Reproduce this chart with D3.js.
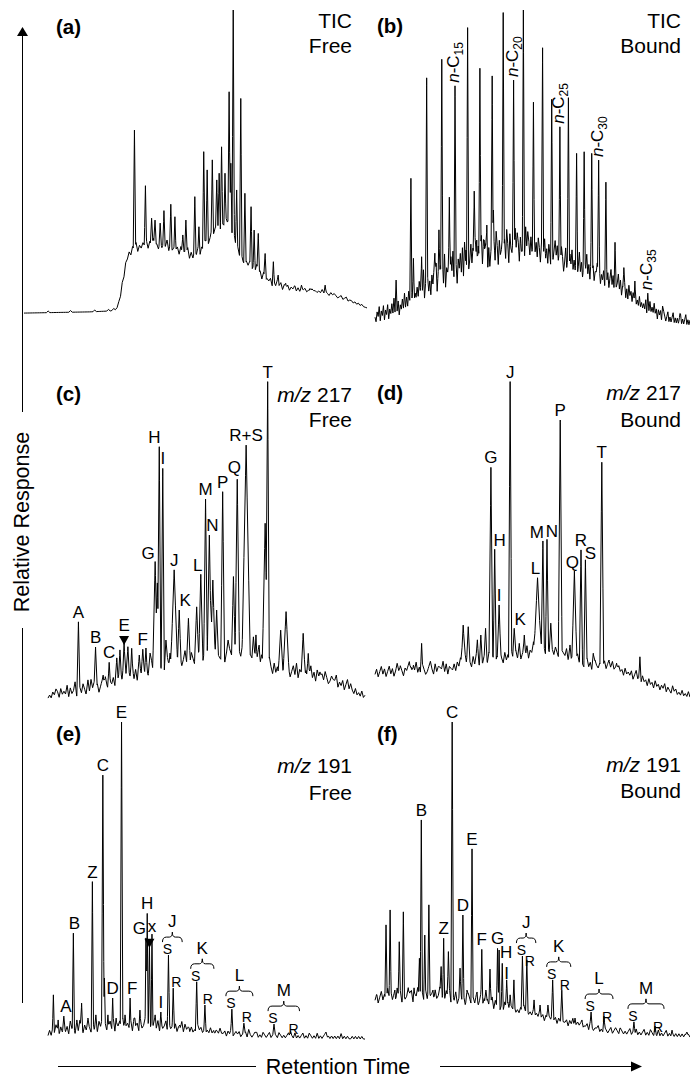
<!DOCTYPE html>
<html>
<head>
<meta charset="utf-8">
<title>Free and bound biomarker chromatograms</title>
<script src="https://cdn.jsdelivr.net/npm/d3@7"></script>
<style>
  body { margin: 0; background: #fff; }
  text { font-family: "Liberation Sans", Arial, Helvetica, sans-serif; fill: #000; }
</style>
</head>
<body>
<svg id="chart" width="690" height="1078"></svg>
<script>
// u = relative retention time across a panel (0-100), v = relative response (0-100)

// (a) TIC, free
const humpA = [[0,0.3],[19.2,0.7],[25.1,1.0],[27.4,1.6],[28.9,10.2],[30.0,16.8],[31.5,18.8],[33.8,20.5],[36.7,21.2],[41.7,20.5],[45.5,19.0],[49.3,17.3],[51.3,18.6],[53.4,21.9],[55.1,25.1],[57.1,27.1],[59.2,28.8],[60.9,25.1],[62.4,18.6],[63.8,15.3],[66.8,13.5],[70.8,9.5],[74.6,7.6],[80.5,6.9],[88.3,6.3],[93.6,4.6],[100,2.0]];
const peaksA = [[32.2,60.5],[35.4,42.2],[37.2,31.5],[38.2,30.9],[39.7,29.9],[40.8,34.0],[42.8,36.1],[44.0,32.0],[46.3,26.0],[47.2,30.9],[49.8,38.6],[51.0,28.7],[52.4,53.4],[53.4,47.4],[54.9,50.7],[56.2,44.1],[56.9,46.3],[57.6,55.0],[58.6,46.3],[59.8,73.1],[60.3,49.6],[61.0,100],[62.0,40.8],[63.2,70.9],[64.4,39.7],[66.2,35.3],[67.1,27.6],[68.3,26.5],[70.3,19.9],[72.7,17.2],[74.1,12.8],[76.3,10.1],[79.0,9.2],[80.9,9.5],[83.4,8.4],[87.8,9.5]];
const noiseA = "0000000000" + "0000100000" + "0000000100" + "0000000000" + "0100000001" +
               "0010120314" + "2526371425" + "3615273416" + "2537162435" + "1624371526" +
               "3715264137" + "2536142637" + "4152637425" + "3614273516" + "2435142635" +
               "1424132413" + "1323121322" + "1213121021" + "2101201201" + "1010101000";

// (b) TIC, bound
const humpB = [[0,2.5],[5.7,3.8],[11.1,6.3],[16.4,8.8],[21.6,11.6],[27.0,13.4],[32.3,15.6],[37.5,17.2],[42.9,18.1],[48.2,18.8],[53.3,18.1],[58.7,17.2],[64.0,15.6],[69.2,14.1],[74.6,11.6],[79.9,8.4],[85.1,5.3],[90.5,3.1],[95.8,2.2],[100,1.6]];
const peaksB = [[6.7,15.6],[11.4,47.4],[12.2,22.4],[14.8,22.9],[16.4,78.8],[19.0,24.0],[20.3,31.3],[21.2,84.6],[23.6,41.5],[25.4,76.3],[27.0,22.9],[28.9,25.0],[29.4,94.5],[31.5,43.4],[32.3,28.1],[33.3,81.8],[34.7,28.1],[35.5,32.8],[37.2,79.4],[37.6,37.5],[40.7,99.2],[44.0,78.1],[45.0,21.9],[46.3,20.8],[47.1,100],[49.2,24.0],[50.3,71.2],[53.2,88.2],[54.1,18.8],[56.1,72.1],[58.7,63.5],[61.4,72.6],[64.0,55.2],[66.4,55.7],[68.8,55.2],[71.0,53.1],[73.3,46.2],[76.2,27.4],[79.0,19.5],[82.5,15.3],[86.6,11.5],[91.3,7.5],[96.8,5.2]];
const noiseB = "1021302130" + "2130213141" + "2130213141" +
               "3142524132" + "4253627143" + "5241536271" +
               "5364728154" + "6374829516" + "4738295163" +
               "5847396274" + "6938475162" + "5847396274" +
               "5847396285" + "4739586274" + "4839586274" +
               "5846375263" + "4735264153" + "5746352641" +
               "3624153624" + "2513624135" + "3624152413" +
               "3524132413" + "2413524132" + "3524132413" +
               "1423132412" + "1312121302" + "1312131202" +
               "1201210120" + "1012010101" + "2010120101";
const alkanesB = [["15",25.4],["20",44.0],["25",58.7],["30",71.0],["35",86.6]];

// (c) m/z 217, free
const humpC = [[0,0.6],[10.1,1.3],[19.6,3.1],[25.9,5.3],[32.2,7.8],[38.5,10.0],[44.8,11.3],[54.3,11.3],[60.6,13.8],[65.3,11.9],[71.6,7.8],[79.5,6.9],[89.0,5.0],[100,0.6]];
const peaksC = [[9.6,24.5,0.5,"A"],[12.6,6.3,0.6],[15.0,16.6,0.5,"B"],[17.4,7.8,0.6],[19.3,11.8,0.5,"C"],[21.7,13.2,0.6],[22.7,15.7,0.6],[24.0,17.9,0.6,"E"],[25.2,16.7,0.6],[26.4,16.2,0.5],[28.8,14.1,0.6],[29.9,15.9,0.6,"F"],[30.9,16.3,0.5],[32.2,14.7,0.6],[33.8,43.4,0.8,"G"],[34.5,36.7,0.6],[35.1,79.4,0.5,"H"],[36.2,72.6,0.5,"I"],[37.2,18.8,0.5],[38.5,14.7,0.5],[39.8,40.8,1.1,"J"],[41.4,28.2,0.6,"K"],[44.3,25.6,0.6],[46.9,29.2,0.7],[48.2,39.4,0.7,"L"],[49.7,63.0,0.6,"M"],[50.9,51.7,0.7,"N"],[52.0,37.6,0.8],[53.2,28.2,0.6],[55.1,65.3,0.6,"P"],[56.8,18.8,0.5],[58.5,38.7,0.6],[59.7,69.2,0.7,"Q"],[62.5,79.9,1.3,"R+S"],[64.8,19.8,0.5],[65.6,20.4,0.4],[66.6,17.2,0.4],[68.5,55.4,0.9],[69.3,99.8,0.5,"T"],[73.4,21.9,0.8],[75.1,27.7,1.0],[80.5,20.9,0.7],[82.1,14.6,0.5],[85.8,8.8,0.6],[90.5,6.3,0.6]];
const noiseC = "0102132031" + "2140312502" + "3142031524" + "1302415203" + "2413052314" +
               "0325140231" + "4120351402" + "3150241305" + "2413025130" + "4201352041" +
               "3025140321" + "5031420513" + "2041530214" + "3150420315" + "2041305214" +
               "1302415032" + "4130251304" + "2031420132" + "1402130241" + "3102010201";

// (d) m/z 217, bound
const humpD = [[0,7.2],[7.9,7.5],[17.5,8.1],[23.8,8.1],[27.0,10.0],[33.3,10.6],[42.9,11.9],[52.4,13.8],[60.3,13.1],[68.3,9.4],[76.2,8.8],[81.0,6.9],[87.3,4.1],[93.7,2.2],[100,0.9]];
const peaksD = [[2.9,9.4,0.6],[7.3,10.3,0.6],[10.9,12.0,0.6],[12.2,10.9,0.5],[14.8,17.7,0.4],[17.5,10.0,0.6],[20.6,10.3,0.6],[28.0,23.4,0.7],[29.6,22.9,0.6],[32.5,18.8,0.5],[33.6,20.3,0.5],[35.1,22.4,0.5],[36.8,72.7,0.6,"G"],[38.0,47.1,0.5,"H"],[39.4,29.7,0.6,"I"],[42.9,99.5,0.5,"J"],[44.2,22.4,0.5,"K"],[45.8,17.7,0.5],[47.4,20.3,0.5],[50.3,18.2,0.5],[51.6,38.2,1.2,"L"],[53.3,49.7,0.5,"M"],[54.6,50.2,0.5,"N"],[55.8,24.0,0.5],[58.8,87.5,0.6,"P"],[61.9,17.2,0.5],[63.3,40.3,0.8,"Q"],[65.4,46.9,0.5,"R"],[66.8,43.8,0.5,"S"],[69.3,14.6,0.5],[72.0,74.3,0.6,"T"],[74.3,12.5,0.5],[76.7,11.5,0.6],[84.1,13.5,0.4]];
const noiseD = "1302413024" + "1302514203" + "2413025130" + "4201352041" + "3025140321" +
               "3031420513" + "2041530214" + "3150420315" + "2041305214" + "1302415032" +
               "4130251304" + "2031420132" + "1402130241" + "3102413024" + "2130241302" +
               "4120312031" + "2130241203" + "1203120312" + "0213021031" + "2010201020";

// (e) m/z 191, free
const humpE = [[0,0.6],[16.4,1.9],[32.2,2.2],[47.9,1.6],[63.7,0.9],[79.5,0.6],[100,0.3]];
const peaksE = [[1.7,14.2,0.35],[3.2,6.3,0.4],[5.0,7.5,0.4,"A"],[6.9,5.0,0.4],[8.0,33.6,0.35,"B"],[9.1,6.3,0.4],[10.6,11.6,0.35],[12.6,6.9,0.4],[14.0,49.8,0.35,"Z"],[15.1,7.9,0.4],[17.3,83.3,0.4,"C"],[17.8,19.5,0.3],[18.9,7.9,0.4],[20.4,13.2,0.35,"D"],[21.5,6.9,0.4],[23.2,100,0.4,"E"],[24.3,7.9,0.4],[25.9,13.2,0.35,"F"],[27.4,6.9,0.4],[29.0,9.4,0.4],[30.9,32.1,0.3],[31.3,39.8,0.3,"H"],[32.0,29.6,0.35,"G"],[32.8,33.3,0.3,"x"],[33.8,7.9,0.4],[35.6,8.8,0.35,"I"],[41.6,4.7,0.4],[44.5,3.8,0.4],[53.0,3.1,0.5],[65.3,2.5,0.5],[87.7,2.5,0.5]];
const hopanesE = [["J",38.0,26.7,39.5,16.3],["K",46.9,18.3,49.5,11.0],["L",58.0,9.7,61.8,5.3],["M",71.3,5.0,76.5,2.8]];
const noiseE = "1314253142" + "5241634152" + "6314253162" + "4153624135" + "2614352613" +
               "4251634152" + "3624153625" + "1423514231" + "4132514231" + "3121423121" +
               "2131202131" + "1202130121" + "2011203101" + "1201021012" + "0121021010" +
               "1201020101" + "2010210102" + "0101201010" + "1010201010" + "0101010100";

// (f) m/z 191, bound
const humpF = [[0,10.7],[7.9,11.0],[20.6,11.3],[34.9,9.4],[48.6,7.2],[62.9,4.1],[74.0,2.2],[84.1,1.6],[100,0.9]];
const peaksF = [[0.6,14.2,0.3],[3.5,36.2,0.35],[4.8,40.9,0.35],[6.3,15.7,0.4],[7.7,30.9,0.35],[9.0,40.3,0.35],[11.1,15.2,0.4],[12.4,16.4,0.4],[14.1,25.7,0.35],[14.7,69.2,0.35,"B"],[15.8,33.0,0.35],[17.1,42.5,0.35],[18.4,15.7,0.4],[21.0,23.1,0.35],[21.8,32.0,0.35,"Z"],[23.3,27.8,0.4],[24.5,100,0.4,"C"],[27.0,22.6,0.4],[27.9,39.3,0.35,"D"],[29.2,15.7,0.4],[30.8,60.1,0.35,"E"],[32.4,15.1,0.4],[33.9,28.5,0.35,"F"],[35.2,15.7,0.4],[36.5,22.3,0.4],[38.9,28.8,0.35,"G"],[39.4,28.3,0.3],[40.4,24.1,0.35,"H"],[41.8,18.9,0.35,"I"],[42.9,14.2,0.4],[44.1,18.9,0.35],[50.5,12.6,0.4],[52.4,11.0,0.4],[54.9,11.0,0.4],[63.5,6.9,0.4],[65.7,6.3,0.4],[77.8,3.8,0.4],[94.3,3.1,0.4],[99.0,2.5,0.4]];
const hopanesF = [["J",46.8,26.4,48.2,25.2],["K",56.4,18.9,59.3,15.7],["L",68.6,8.8,72.7,7.5],["M",82.2,5.7,88.9,4.4]];
const noiseF = "2413524163" + "5241635142" + "3625143625" + "4152634152" + "3614253614" +
               "2513624135" + "3142513624" + "1423514231" + "3142413231" + "2131423121" +
               "3121312021" + "2131202131" + "1202130121" + "2011203101" + "1201021012" +
               "0121021010" + "1201020101" + "2010210102" + "0101201010" + "1010101010";

// panel titles
const titles = {
  a: ["(a)", "TIC", "Free"], b: ["(b)", "TIC", "Bound"],
  c: ["(c)", "m/z 217", "Free"], d: ["(d)", "m/z 217", "Bound"],
  e: ["(e)", "m/z 191", "Free"], f: ["(f)", "m/z 191", "Bound"]
};

// ---- layout
const svg = d3.select("#chart");

const panels = [
  { id: "a", hump: humpA, peaks: peaksA, noise: noiseA, amp: 0.55, w: 0.35, x: [24, 367], y: [314, 10] },
  { id: "b", hump: humpB, peaks: peaksB, noise: noiseB, amp: 1.5, w: 0.35, x: [375, 690], y: [330, 10] },
  { id: "c", hump: humpC, peaks: peaksC, noise: noiseC, amp: 0.9, w: 0.6, x: [48, 365], y: [700, 381] },
  { id: "d", hump: humpD, peaks: peaksD, noise: noiseD, amp: 0.8, w: 0.6, x: [375, 690], y: [700, 380] },
  { id: "e", hump: humpE, peaks: peaksE, noise: noiseE, amp: 0.8, w: 0.4, x: [48, 365], y: [1040, 722], hop: hopanesE },
  { id: "f", hump: humpF, peaks: peaksF, noise: noiseF, amp: 0.9, w: 0.4, x: [375, 690], y: [1040, 722], hop: hopanesF }
];

const titlePos = {
  a: { tx: 56, rx: 352, tag: 34, l1: 28, l2: 53 },
  b: { tx: 377, rx: 681, tag: 33, l1: 28, l2: 53 },
  c: { tx: 56, rx: 352, tag: 401, l1: 402, l2: 427 },
  d: { tx: 377, rx: 681, tag: 400, l1: 400, l2: 427 },
  e: { tx: 56, rx: 352, tag: 741, l1: 773, l2: 800 },
  f: { tx: 377, rx: 681, tag: 741, l1: 772, l2: 798 }
};

// small label shifts in px [dx, dy]
const nudge = {
  "cG": [-7, 1], "cH": [-5, 0], "cK": [6, 0], "cL": [-3, 1], "cN": [3, 0], "cQ": [-3, -2],
  "dH": [5, 1], "dK": [6, 1], "dL": [-2, 0], "dM": [-6, 1], "dN": [5, 2], "dQ": [-2, 1], "dS": [5, 3],
  "eA": [2, 0], "eF": [2, 0], "eG": [-10, 0], "ex": [0, 2], "eB": [1, 0],
  "fH": [4, -1], "fI": [0, 3]
};
const arrowAt = { c: "E", e: "G" };

function buildTrace(p) {
  const hx = p.hump.map(d => d[0]), hy = p.hump.map(d => d[1]);
  const base = u => {
    let i = d3.bisectRight(hx, u) - 1;
    i = Math.max(0, Math.min(hx.length - 2, i));
    const t = Math.max(0, Math.min(1, (u - hx[i]) / (hx[i + 1] - hx[i])));
    return hy[i] + (hy[i + 1] - hy[i]) * t;
  };
  const n = p.noise.length - 1;
  const nz = u => {
    const q = u / 100 * n, i = Math.min(n - 1, Math.floor(q)), t = q - i;
    return (+p.noise[i] * (1 - t) + +p.noise[i + 1] * t) * p.amp;
  };
  const pk = p.allPeaks;
  let us = d3.range(n + 1).map(i => i * 100 / n);
  pk.forEach(d => us.push(d[0] - d[2], d[0], d[0] + d[2]));
  us = Array.from(new Set(us.filter(u => u >= 0 && u <= 100))).sort(d3.ascending);
  return us.map(u => {
    const b = base(u);
    let top = nz(u);
    pk.forEach(d => {
      const dist = Math.abs(u - d[0]);
      if (dist < d[2]) top = Math.max(top, (d[1] - base(d[0])) * (1 - dist / d[2]));
    });
    return [u, b + top];
  });
}

panels.forEach(p => {
  const x = d3.scaleLinear().domain([0, 100]).range(p.x);
  const y = d3.scaleLinear().domain([0, 100]).range(p.y);
  const g = svg.append("g").attr("class", "panel-" + p.id);

  p.allPeaks = p.peaks.map(d => [d[0], d[1], d[2] || p.w, d[3]]);
  if (p.hop) p.hop.forEach(h => {
    p.allPeaks.push([h[1], h[2], p.w]);
    p.allPeaks.push([h[3], h[4], p.w]);
  });

  const line = d3.line().x(d => x(d[0])).y(d => y(d[1]));
  g.append("path")
    .attr("d", line(buildTrace(p)))
    .attr("fill", "none")
    .attr("stroke", "#000")
    .attr("stroke-width", 1)
    .attr("stroke-linejoin", "round");

  // peak letters
  p.allPeaks.filter(d => d[3]).forEach(d => {
    const nd = nudge[p.id + d[3]] || [0, 0];
    let yb = y(d[1]) - 4;
    if (arrowAt[p.id] === d[3]) {
      const tip = y(d[1]) + 2, cx = x(d[0]);
      g.append("path")
        .attr("d", `M${cx - 5},${tip - 9}L${cx + 5},${tip - 9}L${cx},${tip}Z`)
        .attr("fill", "#000");
      yb = y(d[1]) - 12;
    }
    g.append("text")
      .attr("x", x(d[0]) + nd[0])
      .attr("y", yb + nd[1])
      .attr("text-anchor", "middle")
      .attr("font-size", 17)
      .text(d[3]);
  });

  // hopane S/R pairs with brace
  if (p.hop) p.hop.forEach(h => {
    const sx = x(h[1]) - 1, sy = y(h[2]) - 1;
    const rx = x(h[3]) + 3, ry = Math.max(y(h[4]) - 1, sy + 11);
    g.append("text").attr("x", sx).attr("y", sy).attr("text-anchor", "middle").attr("font-size", 14).text("S");
    g.append("text").attr("x", rx).attr("y", ry).attr("text-anchor", "middle").attr("font-size", 14).text("R");
    const b0 = sy - 12, l = sx - 5, r = rx + 6, m = (l + r) / 2;
    g.append("path")
      .attr("d", `M${l},${b0}q0,-5 4,-5H${m - 3}q3,0 3,-5q0,5 3,5H${r - 4}q4,0 4,5`)
      .attr("fill", "none").attr("stroke", "#000").attr("stroke-width", 1);
    g.append("text").attr("x", m).attr("y", b0 - 15).attr("text-anchor", "middle").attr("font-size", 17).text(h[0]);
  });

  // n-alkane labels
  if (p.id === "b") alkanesB.forEach(a => {
    const pkk = p.allPeaks.reduce((best, d) => Math.abs(d[0] - a[1]) < Math.abs(best[0] - a[1]) ? d : best);
    const t = g.append("text")
      .attr("transform", `translate(${x(pkk[0]) + 4},${y(pkk[1]) - 3}) rotate(-90)`)
      .attr("font-size", 17);
    t.append("tspan").attr("font-style", "italic").text("n");
    t.append("tspan").text("-C");
    t.append("tspan").attr("font-size", 12).attr("dy", 4).text(a[0]);
  });

  // titles
  const tt = titles[p.id], tp = titlePos[p.id];
  g.append("text").attr("x", tp.tx).attr("y", tp.tag).attr("font-size", 20.5).attr("font-weight", "bold").text(tt[0]);
  const l1 = g.append("text").attr("x", tp.rx).attr("y", tp.l1).attr("text-anchor", "end").attr("font-size", 21);
  if (tt[1].startsWith("m/z")) {
    l1.append("tspan").attr("font-style", "italic").text("m/z");
    l1.append("tspan").text(tt[1].slice(3));
  } else l1.text(tt[1]);
  g.append("text").attr("x", tp.rx).attr("y", tp.l2).attr("text-anchor", "end").attr("font-size", 21).text(tt[2]);
});

// ---- axes arrows
const ax = svg.append("g").attr("stroke", "#000").attr("stroke-width", 1);
ax.append("line").attr("x1", 22.5).attr("y1", 34).attr("x2", 22.5).attr("y2", 412);
ax.append("line").attr("x1", 22.5).attr("y1", 628).attr("x2", 22.5).attr("y2", 1003);
svg.append("path").attr("d", "M22.5,27L17,36L28,36Z").attr("fill", "#000");
svg.append("text")
  .attr("transform", "translate(29,522) rotate(-90)")
  .attr("text-anchor", "middle")
  .attr("font-size", 21.5)
  .text("Relative Response");

ax.append("line").attr("x1", 58).attr("y1", 1066.5).attr("x2", 256).attr("y2", 1066.5);
ax.append("line").attr("x1", 440).attr("y1", 1066.5).attr("x2", 633).attr("y2", 1066.5);
svg.append("path").attr("d", "M642,1066.5L631,1061.5L631,1071.5Z").attr("fill", "#000");
svg.append("text")
  .attr("x", 338).attr("y", 1074)
  .attr("text-anchor", "middle")
  .attr("font-size", 21.5)
  .text("Retention Time");
</script>
</body>
</html>
